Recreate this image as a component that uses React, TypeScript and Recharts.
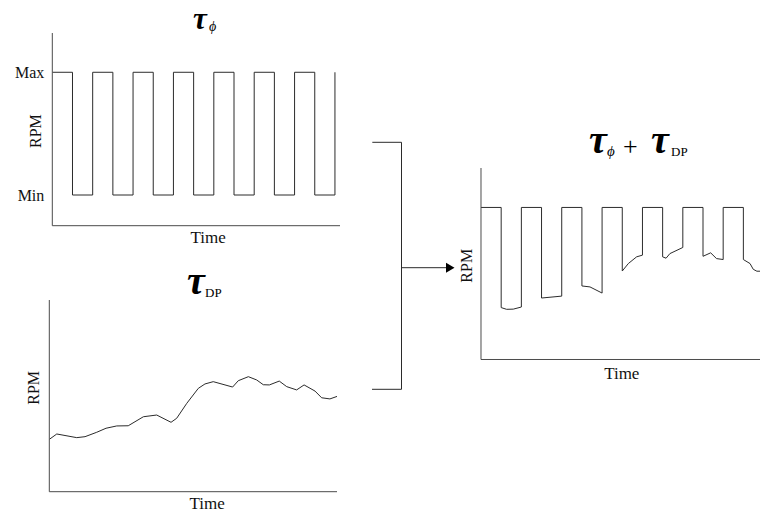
import { Line, LineChart, XAxis, YAxis } from "recharts";

const SERIF = "'Liberation Serif', 'Times New Roman', serif";
const INK = "#2b2b2b";
const AXIS = "#4a4a4a";

// tau_phi: square wave between Min (0) and Max (1)
const phiTime = [0, 1, 2, 3, 4, 5, 6, 7, 8, 9, 10, 11, 12, 13, 14];
const phiLevel = [1, 0, 1, 0, 1, 0, 1, 0, 1, 0, 1, 0, 1, 0, 1];
const phiTicks = [0, 1];
const phiTickNames = ["Min", "Max"];

// tau_DP
const dpTime = [0, 0.37, 1.36, 1.77, 2.35, 2.81, 3.34, 3.91, 4.66, 5.32, 6.03, 6.31, 6.81, 7.38, 7.71, 8.12, 9.08, 9.36, 9.86, 10.27, 10.6, 10.9, 11.39, 11.76, 12.25, 12.62, 13.16, 13.49, 13.9, 14.25];
const dpRpm = [2.73, 3.01, 2.82, 2.87, 3.1, 3.31, 3.43, 3.44, 3.91, 4.0, 3.62, 3.83, 4.61, 5.39, 5.62, 5.74, 5.46, 5.79, 6.0, 5.83, 5.58, 5.57, 5.77, 5.48, 5.31, 5.57, 5.25, 4.9, 4.84, 4.97];

// tau_phi + tau_DP
const sumTime = [0, 1, 1, 1.27, 1.6, 2, 2, 3, 3, 4, 4, 5, 5, 5.4, 6, 6, 7, 7, 7.3, 7.71, 8, 8, 9, 9, 9.17, 9.36, 10, 10, 11, 11, 11.38, 11.67, 12, 12, 13, 13, 13.33, 13.49, 13.67, 14, 14, 14.25];
const sumRpm = [7.94, 7.94, 2.71, 2.62, 2.63, 2.74, 7.94, 7.94, 3.21, 3.31, 7.94, 7.94, 3.84, 3.79, 3.47, 7.94, 7.94, 4.62, 5.01, 5.36, 5.45, 7.94, 7.94, 5.36, 5.29, 5.53, 5.85, 7.94, 7.94, 5.39, 5.57, 5.27, 5.22, 7.94, 7.94, 5.22, 5.01, 4.71, 4.61, 4.61, 7.94, 7.94];

const phiData = phiTime.map((t, i) => ({ t, v: phiLevel[i] }));
const dpData = dpTime.map((t, i) => ({ t, v: dpRpm[i] }));
const sumData = sumTime.map((t, i) => ({ t, v: sumRpm[i] }));

function TimeLabel({ viewBox, shiftX = 0, base = 18 }: any) {
  const { x, y, width } = viewBox;
  return (
    <text x={x + width / 2 + shiftX} y={y + base} textAnchor="middle" fontFamily={SERIF} fontSize={17} fill="#111">
      Time
    </text>
  );
}

function RpmLabel({ viewBox, cx = 36, shiftY = 0 }: any) {
  const { x, y, height } = viewBox;
  const px = x + cx;
  const py = y + height / 2 + shiftY;
  return (
    <text
      x={px}
      y={py}
      transform={`rotate(-90 ${px} ${py})`}
      textAnchor="middle"
      dominantBaseline="central"
      fontFamily={SERIF}
      fontSize={16}
      fill="#111"
    >
      RPM
    </text>
  );
}

const tauStyle = { fontFamily: SERIF, fontStyle: "italic", fontWeight: 700, fontSize: 40, fill: "#000" } as const;
const subStyle = { fontFamily: SERIF, fontSize: 13, fill: "#000" } as const;

function Overlay() {
  return (
    <svg width={760} height={515} style={{ position: "absolute", left: 0, top: 0 }}>
      {/* titles */}
      <text x={193} y={28.5} {...tauStyle} fontSize={31}>τ</text>
      <text x={209} y={31} {...subStyle} fontStyle="italic" fontSize={14}>ϕ</text>

      <text x={187} y={294} {...tauStyle}>τ</text>
      <text x={205} y={297} {...subStyle}>DP</text>

      <text x={589} y={153} {...tauStyle}>τ</text>
      <text x={607} y={156} {...subStyle} fontStyle="italic" fontSize={15}>ϕ</text>
      <text x={623} y={155} fontFamily={SERIF} fontSize={26} fill="#000">+</text>
      <text x={651} y={153} {...tauStyle}>τ</text>
      <text x={671} y={156} {...subStyle}>DP</text>

      {/* connector */}
      <path d="M372.3 142.3 H401.5 V389.3 H372" fill="none" stroke={INK} strokeWidth={1} />
      <path d="M401.5 267.7 H447" fill="none" stroke={INK} strokeWidth={1} />
      <polygon points="446,262.7 454.5,267.7 446,272.7" fill="#000" />
    </svg>
  );
}

export default function App() {
  return (
    <div style={{ position: "fixed", left: 0, top: 0, width: 760, height: 515, overflow: "hidden", background: "#fff" }}>
      <Overlay />

      <div style={{ position: "absolute", left: 0, top: 0 }}>
        <LineChart width={340} height={250} data={phiData} margin={{ top: 33, right: 0, bottom: 0, left: 0 }}>
          <XAxis
            dataKey="t"
            type="number"
            domain={[0, 14.25]}
            allowDataOverflow
            height={24.3}
            tick={false}
            tickLine={false}
            stroke={AXIS}
            label={<TimeLabel shiftX={12} base={17.6} />}
          />
          <YAxis
            type="number"
            domain={[-0.25, 1.32]}
            allowDataOverflow
            width={52.3}
            ticks={phiTicks}
            tickFormatter={(v: number) => phiTickNames[phiTicks.indexOf(v)]}
            tick={{ fontFamily: SERIF, fontSize: 16, fill: "#111" }}
            tickLine={false}
            stroke={AXIS}
            label={<RpmLabel cx={36} shiftY={1.7} />}
          />
          <Line type="stepAfter" dataKey="v" stroke={INK} strokeWidth={1} dot={false} activeDot={false} isAnimationActive={false} />
        </LineChart>
      </div>

      <div style={{ position: "absolute", left: 0, top: 250 }}>
        <LineChart width={337} height={265} data={dpData} margin={{ top: 50, right: 0, bottom: 0, left: 0 }}>
          <XAxis
            dataKey="t"
            type="number"
            domain={[0, 14.25]}
            allowDataOverflow
            height={23.3}
            tick={false}
            tickLine={false}
            stroke={AXIS}
            label={<TimeLabel shiftX={14} base={17.5} />}
          />
          <YAxis
            type="number"
            domain={[0, 10]}
            allowDataOverflow
            width={49.3}
            tick={false}
            tickLine={false}
            stroke={AXIS}
            label={<RpmLabel cx={33.5} shiftY={-8} />}
          />
          <Line type="linear" dataKey="v" stroke={INK} strokeWidth={1} dot={false} activeDot={false} isAnimationActive={false} />
        </LineChart>
      </div>

      <div style={{ position: "absolute", left: 430, top: 120 }}>
        <LineChart width={338.6} height={270} data={sumData} margin={{ top: 48, right: 0, bottom: 0, left: 0 }}>
          <XAxis
            dataKey="t"
            type="number"
            domain={[0, 14.25]}
            allowDataOverflow
            height={30.5}
            tick={false}
            tickLine={false}
            stroke={AXIS}
            label={<TimeLabel shiftX={-3} base={19.5} />}
          />
          <YAxis
            type="number"
            domain={[0, 10]}
            allowDataOverflow
            width={51}
            tick={false}
            tickLine={false}
            stroke={AXIS}
            label={<RpmLabel cx={36.5} shiftY={2} />}
          />
          <Line type="linear" dataKey="v" stroke={INK} strokeWidth={1} dot={false} activeDot={false} isAnimationActive={false} />
        </LineChart>
      </div>
    </div>
  );
}
